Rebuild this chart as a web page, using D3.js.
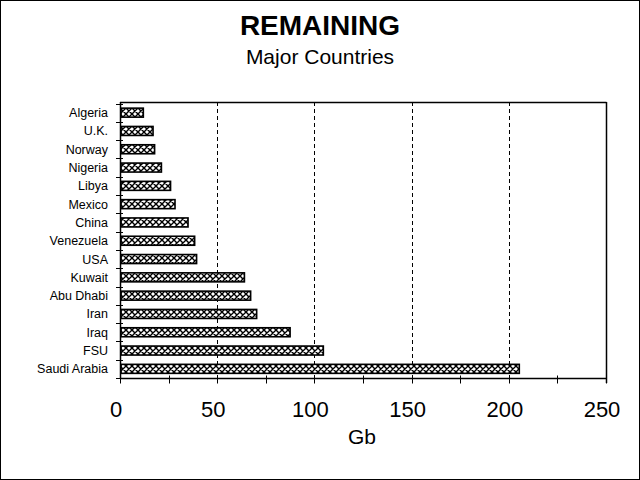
<!DOCTYPE html>
<html>
<head>
<meta charset="utf-8">
<script src="https://cdn.jsdelivr.net/npm/d3@7"></script>
<style>
  html, body { margin: 0; padding: 0; background: #fff; }
  svg { display: block; font-family: "Liberation Sans", Arial, sans-serif; }
</style>
</head>
<body>
<svg id="chart" width="640" height="480"></svg>
<script>
const countries = ["Algeria", "U.K.", "Norway", "Nigeria", "Libya", "Mexico", "China",
  "Venezuela", "USA", "Kuwait", "Abu Dhabi", "Iran", "Iraq", "FSU", "Saudi Arabia"];
const remainingGb = [12, 17, 17.8, 21.3, 26, 28.3, 35, 38.4, 39.4, 64, 67.2, 70.3, 87.5, 104.6, 205.4];
const xTicks = [0, 50, 100, 150, 200, 250];
const xMinorTicks = [25, 75, 125, 175, 225];
const gridTicks = [50, 100, 150, 200];
const titleText = "REMAINING";
const subtitleText = "Major Countries";
const xAxisTitle = "Gb";

(function () {
const svg = d3.select("#chart");
const W = 640, H = 480;
const pLeft = 120, pRight = 606, pTop = 102, pBottom = 378;

// outer border
svg.append("rect").attr("x", 0.5).attr("y", 0.5).attr("width", W - 1).attr("height", H - 1)
  .attr("fill", "#fff").attr("stroke", "#000").attr("stroke-width", 1);

// hatch pattern
const defs = svg.append("defs");
const pat = defs.append("pattern").attr("id", "hatch").attr("patternUnits", "userSpaceOnUse")
  .attr("width", 6).attr("height", 6);
pat.append("rect").attr("width", 6).attr("height", 6).attr("fill", "#fff");
pat.append("path").attr("d", "M0,0L6,6M0,6L6,0M-1,1L1,-1M5,7L7,5M-1,5L1,7M5,-1L7,1")
  .attr("stroke", "#000").attr("stroke-width", 1.4);

const x = d3.scaleLinear().domain([0, 250]).range([pLeft, pRight]);
const y = d3.scaleBand().domain(countries).range([103.5, pBottom]).padding(0);

// titles
svg.append("text").attr("x", 320).attr("y", 35).attr("text-anchor", "middle")
  .attr("font-size", 28).attr("font-weight", "bold").text(titleText);
svg.append("text").attr("x", 320).attr("y", 64).attr("text-anchor", "middle")
  .attr("font-size", 21).text(subtitleText);

// gridlines
svg.append("g").selectAll("line").data(gridTicks).join("line")
  .attr("x1", d => Math.round(x(d)) + 0.5).attr("x2", d => Math.round(x(d)) + 0.5)
  .attr("y1", pTop).attr("y2", pBottom)
  .attr("stroke", "#000").attr("stroke-width", 1).attr("stroke-dasharray", "4,3");

// frame top & right
svg.append("line").attr("x1", pLeft).attr("x2", pRight + 0.5).attr("y1", pTop + 0.5).attr("y2", pTop + 0.5)
  .attr("stroke", "#000").attr("stroke-width", 1.5);
svg.append("line").attr("x1", pRight + 0.5).attr("x2", pRight + 0.5).attr("y1", pTop).attr("y2", pBottom + 5)
  .attr("stroke", "#000").attr("stroke-width", 1.5);

// bars
const barH = 9;
svg.append("g").selectAll("rect").data(countries).join("rect")
  .attr("x", x(0) + 1)
  .attr("y", d => y(d) + y.bandwidth() / 2 - barH / 2)
  .attr("width", (d, i) => x(remainingGb[i]) - x(0) - 1)
  .attr("height", barH)
  .attr("fill", "url(#hatch)")
  .attr("stroke", "#000").attr("stroke-width", 1.6);

// x axis
const xAxis = svg.append("g").attr("transform", `translate(0,${pBottom + 0.5})`);
xAxis.append("line").attr("x1", pLeft).attr("x2", pRight).attr("stroke", "#000").attr("stroke-width", 1.5);
xAxis.selectAll("line.tk").data(xTicks.concat(xMinorTicks)).join("line").attr("class", "tk")
  .attr("x1", d => Math.round(x(d)) + 0.5).attr("x2", d => Math.round(x(d)) + 0.5)
  .attr("y1", -3).attr("y2", 5).attr("stroke", "#000").attr("stroke-width", 1);
xAxis.selectAll("text").data(xTicks).join("text")
  .attr("x", d => x(d) - 4).attr("y", 38.5).attr("text-anchor", "middle")
  .attr("font-size", 22).text(d => d);
svg.append("text").attr("x", 362).attr("y", 444).attr("text-anchor", "middle")
  .attr("font-size", 21).text(xAxisTitle);

// y axis
const yAxis = svg.append("g");
yAxis.append("line").attr("x1", pLeft + 0.5).attr("x2", pLeft + 0.5).attr("y1", pTop).attr("y2", pBottom)
  .attr("stroke", "#000").attr("stroke-width", 1.5);
const bounds = countries.map(d => y(d)).concat([y.range()[1]]);
yAxis.selectAll("line.tk").data(bounds).join("line").attr("class", "tk")
  .attr("x1", pLeft - 4).attr("x2", pLeft + 3)
  .attr("y1", d => Math.round(d) + 0.5).attr("y2", d => Math.round(d) + 0.5)
  .attr("stroke", "#000").attr("stroke-width", 1);
yAxis.selectAll("text").data(countries).join("text")
  .attr("x", 108).attr("y", d => y(d) + y.bandwidth() / 2)
  .attr("dy", "0.36em").attr("text-anchor", "end")
  .attr("font-size", 12.5).text(d => d);
})();
</script>
</body>
</html>
